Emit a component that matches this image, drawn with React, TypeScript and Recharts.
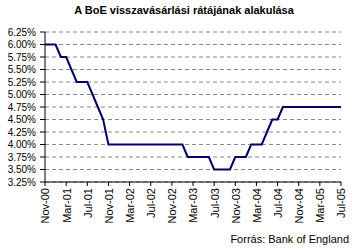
import { LineChart, Line, XAxis, YAxis, CartesianGrid } from 'recharts';

const months = [
  'Nov-00', 'Dec-00', 'Jan-01', 'Feb-01', 'Mar-01', 'Apr-01', 'May-01', 'Jun-01', 'Jul-01', 'Aug-01', 'Sep-01', 'Oct-01',
  'Nov-01', 'Dec-01', 'Jan-02', 'Feb-02', 'Mar-02', 'Apr-02', 'May-02', 'Jun-02', 'Jul-02', 'Aug-02', 'Sep-02', 'Oct-02',
  'Nov-02', 'Dec-02', 'Jan-03', 'Feb-03', 'Mar-03', 'Apr-03', 'May-03', 'Jun-03', 'Jul-03', 'Aug-03', 'Sep-03', 'Oct-03',
  'Nov-03', 'Dec-03', 'Jan-04', 'Feb-04', 'Mar-04', 'Apr-04', 'May-04', 'Jun-04', 'Jul-04', 'Aug-04', 'Sep-04', 'Oct-04',
  'Nov-04', 'Dec-04', 'Jan-05', 'Feb-05', 'Mar-05', 'Apr-05', 'May-05', 'Jun-05', 'Jul-05',
];

const repoRate = [
  6.0, 6.0, 6.0, 5.75, 5.75, 5.5, 5.25, 5.25, 5.25, 5.0, 4.75, 4.5,
  4.0, 4.0, 4.0, 4.0, 4.0, 4.0, 4.0, 4.0, 4.0, 4.0, 4.0, 4.0,
  4.0, 4.0, 4.0, 3.75, 3.75, 3.75, 3.75, 3.75, 3.5, 3.5, 3.5, 3.5,
  3.75, 3.75, 3.75, 4.0, 4.0, 4.0, 4.25, 4.5, 4.5, 4.75, 4.75, 4.75,
  4.75, 4.75, 4.75, 4.75, 4.75, 4.75, 4.75, 4.75, 4.75,
];

const yTicks = [3.25, 3.5, 3.75, 4.0, 4.25, 4.5, 4.75, 5.0, 5.25, 5.5, 5.75, 6.0, 6.25];

const data = months.map((m, i) => ({ month: m, rate: repoRate[i] }));

const font = 'Arial, "Liberation Sans", sans-serif';

function MonthTick(props: any) {
  const { x, y, payload } = props;
  return (
    <text
      x={x}
      y={y}
      transform={`rotate(-90, ${x}, ${y})`}
      textAnchor="end"
      dy="0.4em"
      fontSize={11}
      fontFamily={font}
      fill="#000"
    >
      {payload.value}
    </text>
  );
}

export default function App() {
  return (
    <div style={{ position: 'absolute', left: 0, top: 0, width: 354, height: 252, background: '#fff', fontFamily: font }}>
      <div style={{ position: 'absolute', top: 4, left: 0, width: 368, textAlign: 'center', fontSize: 11, fontWeight: 'bold' }}>
        A BoE visszavásárlási rátájának alakulása
      </div>
      <LineChart width={354} height={252} data={data} margin={{ top: 32, right: 13, bottom: 0, left: 0 }}>
        <CartesianGrid vertical={false} stroke="#888" strokeDasharray="4 3" />
        <XAxis
          dataKey="month"
          interval={3}
          tick={<MonthTick />}
          tickSize={4}
          tickMargin={2}
          stroke="#000"
          height={70}
        />
        <YAxis
          domain={[3.25, 6.25]}
          ticks={yTicks}
          interval={0}
          tickFormatter={(v: number) => v.toFixed(2) + '%'}
          tick={{ fontSize: 10, fill: '#000', fontFamily: font }}
          tickSize={5}
          tickMargin={4}
          stroke="#000"
          width={45}
        />
        <Line
          type="linear"
          dataKey="rate"
          stroke="#000066"
          strokeWidth={2}
          dot={false}
          isAnimationActive={false}
        />
      </LineChart>
      <div style={{ position: 'absolute', top: 233, right: 5, fontSize: 11 }}>Forrás: Bank of England</div>
    </div>
  );
}
